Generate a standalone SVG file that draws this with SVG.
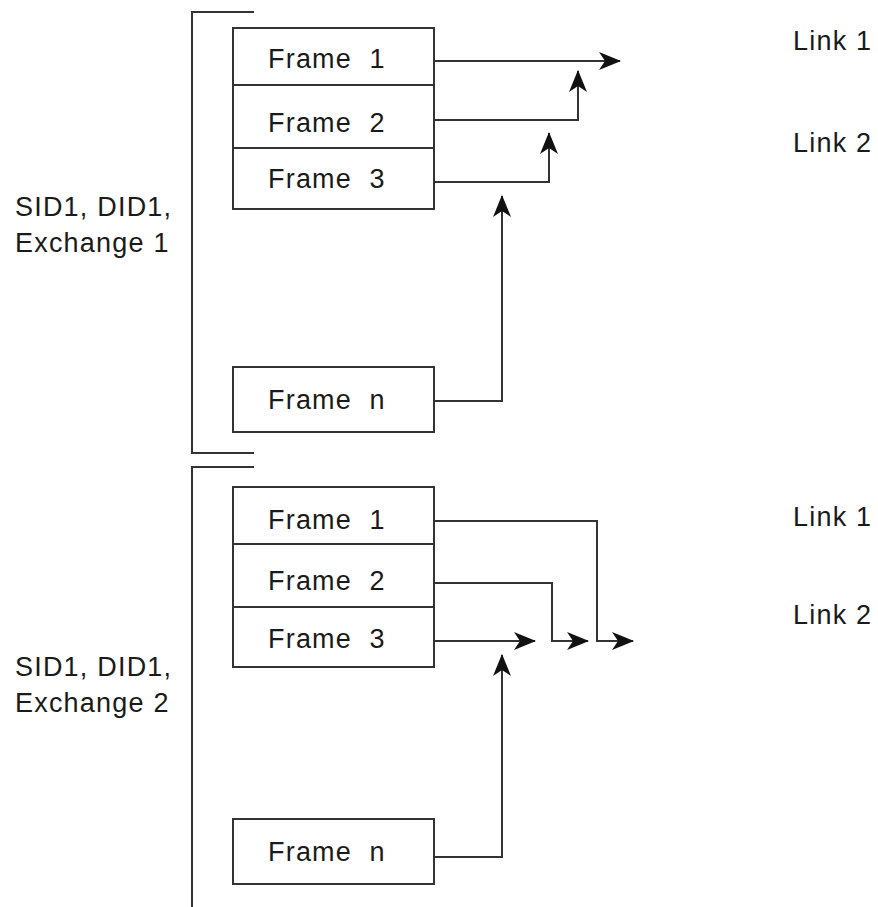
<svg xmlns="http://www.w3.org/2000/svg" width="878" height="907" viewBox="0 0 878 907">
<defs>
<marker id="ah" viewBox="0 0 22 18" refX="21" refY="9" markerWidth="22" markerHeight="18" markerUnits="userSpaceOnUse" orient="auto">
<path d="M0,0 L22,9 L0,18 L6,9 Z" fill="#111"/>
</marker>
<style>
.box{fill:#fff;stroke:#333;stroke-width:2}
.ln{fill:none;stroke:#333;stroke-width:2}
.conn{fill:none;stroke:#333;stroke-width:2;marker-end:url(#ah)}
text{font-family:"Liberation Sans",Arial,sans-serif;font-size:27px;fill:#1a1a1a;letter-spacing:1.2px;white-space:pre}
</style>
</defs>
<rect width="878" height="907" fill="#fff"/>
<g id="bracket1">
<path class="ln" d="M254,12 H192 V453 H254"/>
<text x="15" y="216">SID1, DID1,</text>
<text x="15" y="252">Exchange 1</text>
</g>
<g id="bracket2">
<path class="ln" d="M254,467 H192 V907"/>
<text x="15" y="676">SID1, DID1,</text>
<text x="15" y="712">Exchange 2</text>
</g>
<g id="group1">
<rect class="box" x="233" y="28" width="201" height="181"/>
<line class="ln" x1="233" y1="85" x2="434" y2="85"/>
<line class="ln" x1="233" y1="148" x2="434" y2="148"/>
<text x="268" y="68" xml:space="preserve">Frame  1</text>
<text x="268" y="132" xml:space="preserve">Frame  2</text>
<text x="268" y="188" xml:space="preserve">Frame  3</text>
</g>
<g id="frameN1">
<rect class="box" x="233" y="367" width="201" height="65"/>
<text x="268" y="409" xml:space="preserve">Frame  n</text>
</g>
<g id="group2">
<rect class="box" x="233" y="487" width="201" height="180"/>
<line class="ln" x1="233" y1="544" x2="434" y2="544"/>
<line class="ln" x1="233" y1="607" x2="434" y2="607"/>
<text x="268" y="529" xml:space="preserve">Frame  1</text>
<text x="268" y="590" xml:space="preserve">Frame  2</text>
<text x="268" y="648" xml:space="preserve">Frame  3</text>
</g>
<g id="frameN2">
<rect class="box" x="233" y="819" width="201" height="65"/>
<text x="268" y="861" xml:space="preserve">Frame  n</text>
</g>
<g id="links">
<text x="793" y="50">Link 1</text>
<text x="793" y="152">Link 2</text>
<text x="793" y="526">Link 1</text>
<text x="793" y="624">Link 2</text>
</g>
<g id="connectors">
<path class="conn" d="M434,61 H620"/>
<path class="conn" d="M434,120 H578 V71"/>
<path class="conn" d="M434,182 H549 V133"/>
<path class="conn" d="M434,401 H502 V196"/>
<path class="conn" d="M434,521 H597 V641 H633"/>
<path class="conn" d="M434,583 H552 V641 H588"/>
<path class="conn" d="M434,641 H535"/>
<path class="conn" d="M434,857 H502 V655"/>
</g>
</svg>
